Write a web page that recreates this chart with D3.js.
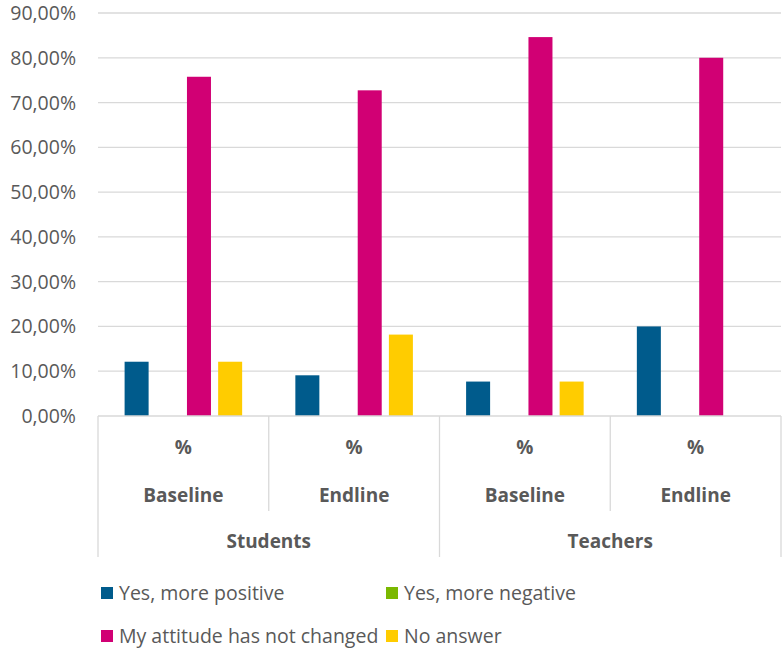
<!DOCTYPE html>
<html>
<head>
<meta charset="utf-8">
<script src="https://cdn.jsdelivr.net/npm/d3@7"></script>
<style>
  html, body { margin: 0; padding: 0; background: #fff; }
  svg { display: block; }
  text { font-family: "Open Sans", "Noto Sans", sans-serif; fill: #595959; }
</style>
</head>
<body>
<svg id="chart" width="783" height="649"></svg>
<script>
// Groups and periods along the category axis
const groups = ["Students", "Teachers"];
const periods = ["Baseline", "Endline"];
const unitLabel = "%";

// Answer series (percent of respondents)
const seriesNames = ["Yes, more positive", "Yes, more negative", "My attitude has not changed", "No answer"];
const seriesColors = ["#005b8c", "#7ab800", "#d10074", "#ffcc00"];
const morePositive = [12.12, 9.09, 7.69, 20.0];
const moreNegative = [0, 0, 0, 0];
const notChanged = [75.76, 72.73, 84.62, 80.0];
const noAnswer = [12.12, 18.18, 7.69, 0];

const yTicks = [0, 10, 20, 30, 40, 50, 60, 70, 80, 90];

const seriesValues = [morePositive, moreNegative, notChanged, noAnswer];
const categories = [];
groups.forEach(g => periods.forEach(p => categories.push({ group: g, period: p, key: g + "|" + p })));

const svg = d3.select("#chart");
const plotLeft = 98, plotRight = 781, plotTop = 13, plotBottom = 416;
const axisBottom = 557, innerBottom = 511;

const y = d3.scaleLinear().domain([0, 90]).range([plotBottom, plotTop]);
const x0 = d3.scaleBand().domain(categories.map(c => c.key)).range([plotLeft, plotRight]);
const x1 = d3.scaleBand().domain(seriesNames)
  .range([26.6, x0.bandwidth() - 26.6]).paddingInner(0.23);
const color = d3.scaleOrdinal().domain(seriesNames).range(seriesColors);

const fmt = v => d3.format(".2f")(v).replace(".", ",") + "%";

// Gridlines
svg.append("g").selectAll("line").data(yTicks.filter(t => t > 0)).join("line")
  .attr("x1", plotLeft).attr("x2", plotRight)
  .attr("y1", d => y(d)).attr("y2", d => y(d))
  .attr("stroke", "#d9d9d9").attr("stroke-width", 1.3);

// Y axis labels
svg.append("g").selectAll("text").data(yTicks).join("text")
  .attr("x", 76).attr("y", d => y(d)).attr("dy", "0.36em")
  .attr("text-anchor", "end").attr("font-size", 19.5)
  .text(fmt);

// Bars
const catG = svg.append("g").selectAll("g").data(categories).join("g")
  .attr("transform", c => `translate(${x0(c.key)},0)`);
catG.selectAll("rect")
  .data((c, i) => seriesNames.map((s, j) => ({ s, v: seriesValues[j][i] })))
  .join("rect")
  .attr("x", d => x1(d.s))
  .attr("width", x1.bandwidth())
  .attr("y", d => y(d.v))
  .attr("height", d => y(0) - y(d.v))
  .attr("fill", d => color(d.s));

// Category axis: baseline and dividers
const axisG = svg.append("g").attr("stroke", "#d9d9d9").attr("stroke-width", 1.3);
axisG.append("line").attr("x1", plotLeft).attr("x2", plotRight).attr("y1", plotBottom).attr("y2", plotBottom);
const groupEdges = [plotLeft, x0(groups[1] + "|" + periods[0]), plotRight];
axisG.selectAll(".outer").data(groupEdges).join("line")
  .attr("x1", d => d).attr("x2", d => d).attr("y1", plotBottom).attr("y2", axisBottom);
axisG.selectAll(".inner").data(groups).join("line")
  .attr("x1", g => x0(g + "|" + periods[1])).attr("x2", g => x0(g + "|" + periods[1]))
  .attr("y1", plotBottom).attr("y2", innerBottom);

// Category labels
const labG = svg.append("g").attr("font-weight", "bold").attr("font-size", 19).attr("text-anchor", "middle");
labG.selectAll(".unit").data(categories).join("text")
  .attr("x", c => x0(c.key) + x0.bandwidth() / 2).attr("y", 447).attr("dy", "0.36em")
  .text(unitLabel);
labG.selectAll(".period").data(categories).join("text")
  .attr("x", c => x0(c.key) + x0.bandwidth() / 2).attr("y", 495).attr("dy", "0.36em")
  .text(c => c.period);
labG.selectAll(".group").data(groups).join("text")
  .attr("x", g => x0(g + "|" + periods[0]) + x0.bandwidth())
  .attr("y", 541).attr("dy", "0.36em")
  .text(g => g);

// Legend
const legendPos = [[101, 593], [386, 593], [101, 636], [386, 636]];
const leg = svg.append("g").selectAll("g").data(seriesNames).join("g")
  .attr("transform", (d, i) => `translate(${legendPos[i][0]},${legendPos[i][1]})`);
leg.append("rect").attr("x", 0).attr("y", -6).attr("width", 12).attr("height", 12)
  .attr("fill", d => color(d));
leg.append("text").attr("x", 18).attr("y", 0).attr("dy", "0.36em")
  .attr("font-size", 19.5).text(d => d);
</script>
</body>
</html>
